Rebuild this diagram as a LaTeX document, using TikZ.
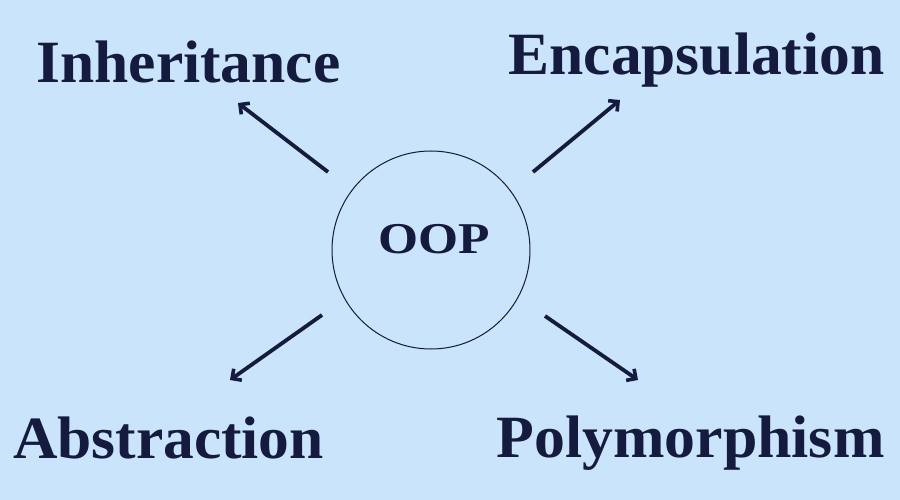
\documentclass[tikz,border=0pt]{standalone}
\usepackage{fontspec}
\setmainfont{Liberation Serif}
\usetikzlibrary{arrows.meta}
\definecolor{bg}{HTML}{C9E4FB}
\definecolor{ink}{HTML}{151B3E}
\newcommand{\wideText}[2]{\scalebox{#1}[1]{#2}}
\begin{document}
\begin{tikzpicture}[x=1pt,y=-1pt,
  label/.style={text=ink,font=\fontsize{60}{64}\selectfont\bfseries,inner sep=0pt,anchor=base},
  conn/.style={draw=ink,line width=3.8pt,-{Straight Barb[length=7pt,width=14pt,line width=3.6pt]}}]
\useasboundingbox[fill=bg] (0,0) rectangle (900,500);
\node[circle,draw=ink,line width=1pt,minimum size=198pt,inner sep=0pt] (oop) at (431,250) {};
\node[label,font=\fontsize{44}{48}\selectfont\bfseries] (t) at (434,253) {\wideText{1.17}{OOP}};
\node[label] (inh) at (188.5,83) {\wideText{1.025}{Inheritance}};
\node[label] (enc) at (696.5,75) {\wideText{1.025}{Encapsulation}};
\node[label] (abs) at (168.5,458) {\wideText{1.025}{Abstraction}};
\node[label] (pol) at (690.5,457) {\wideText{1.03}{Polymorphism}};
\coordinate (a1s) at (328,172); \coordinate (a1e) at (238,103);
\coordinate (a2s) at (533,172); \coordinate (a2e) at (620,100);
\coordinate (a3s) at (322,315); \coordinate (a3e) at (230,380);
\coordinate (a4s) at (545,316); \coordinate (a4e) at (638,380);
\draw[conn] (a1s) -- (a1e);
\draw[conn] (a2s) -- (a2e);
\draw[conn] (a3s) -- (a3e);
\draw[conn] (a4s) -- (a4e);
\end{tikzpicture}
\end{document}
